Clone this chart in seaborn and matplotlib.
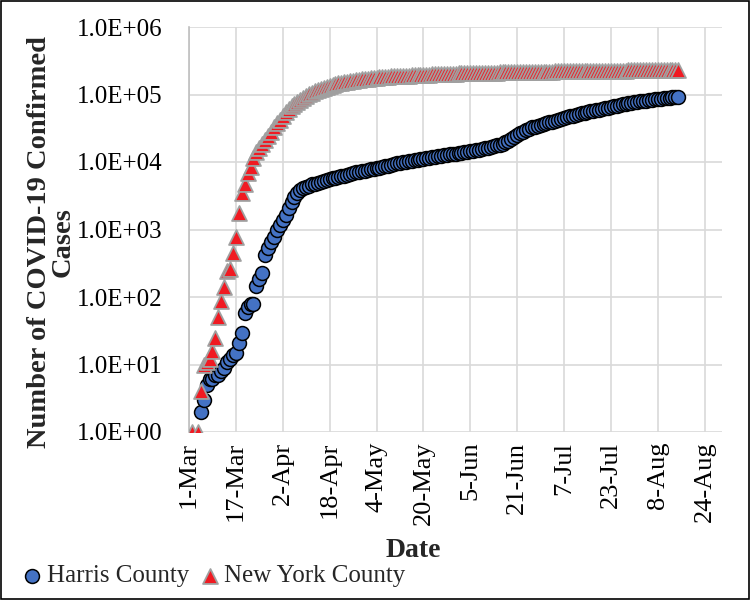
import matplotlib
matplotlib.use("Agg")
import matplotlib.pyplot as plt
import matplotlib.dates as mdates
from matplotlib.ticker import FuncFormatter
from matplotlib.patches import Rectangle
import numpy as np
import pandas as pd
import seaborn as sns

# daily cumulative cases, first entry = 1-Mar-2020 (None = no point that day)
start_date = "2020-03-01"
harris_cases = [
    None, None, None, None, 2, 3, 5, 6, 6, 7,
    7, 8, 9, 11, 12, 14, 15, 21, 29, 58,
    70, 78, 80, 145, 185, 230, 420, 540, 650, 780,
    980, 1170, 1380, 1630, 2100, 2570, 3020, 3470, 3800, 4050,
    4250, 4450, 4650, 4800, 4950, 5100, 5250, 5400, 5550, 5700,
    5850, 6000, 6150, 6300, 6500, 6700, 6850, 7000, 7150, 7300,
    7450, 7600, 7750, 7900, 8050, 8250, 8450, 8650, 8850, 9050,
    9300, 9550, 9800, 10000, 10150, 10300, 10450, 10600, 10750, 10950,
    11150, 11350, 11550, 11750, 11950, 12150, 12350, 12550, 12750, 12950,
    13150, 13350, 13550, 13750, 13950, 14200, 14450, 14700, 15000, 15300,
    15600, 15900, 16300, 16700, 17100, 17600, 18100, 18700, 19600, 20700,
    22000, 23500, 25000, 26500, 28000, 29500, 31000, 32500, 33500, 34500,
    35500, 36500, 37500, 38500, 39800, 41000, 42300, 43600, 45000, 46300,
    47500, 48700, 50000, 51200, 52400, 53600, 54800, 56000, 57300, 58600,
    59900, 61200, 62500, 64000, 65500, 67000, 68400, 69800, 71200, 72600,
    74000, 75400, 76700, 78000, 79200, 80300, 81400, 82400, 83400, 84400,
    85400, 86400, 87400, 88400, 89400, 90400, 91300, 92200,
]
ny_cases = [
    None, 1, None, 1, 4, 10, 11, 12, 16, 25,
    50, 87, 140, 240, 260, 450, 770, 1750, 3500, 4700,
    6900, 8500, 11500, 14000, 16000, 18500, 21000, 24500, 28000, 33000,
    37500, 42000, 48000, 55000, 62000, 68000, 73000, 78000, 84000, 90000,
    96000, 102000, 107000, 112000, 117000, 122000, 126000, 130000, 134000, 138000,
    142000, 146000, 149000, 152000, 155000, 158000, 161000, 164000, 166000, 168000,
    170000, 172000, 174000, 176000, 177500, 179000, 180500, 182000, 183500, 185000,
    186000, 187000, 188000, 189000, 190000, 191000, 192000, 193000, 194000, 195000,
    196000, 196800, 197600, 198400, 199200, 200000, 200700, 201400, 202100, 202800,
    203500, 204100, 204700, 205300, 205900, 206500, 207000, 207500, 208000, 208500,
    209000, 209500, 210000, 210500, 211000, 211400, 211800, 212200, 212600, 213000,
    213400, 213800, 214200, 214600, 215000, 215400, 215800, 216200, 216600, 217000,
    217400, 217800, 218200, 218600, 219000, 219400, 219800, 220200, 220500, 220800,
    221100, 221400, 221700, 222000, 222300, 222600, 222900, 223200, 223500, 223800,
    224100, 224400, 224700, 225000, 225300, 225600, 225900, 226200, 226400, 226600,
    226800, 227000, 227200, 227400, 227600, 227800, 228000, 228200, 228400, 228600,
    228800, 229000, 229200, 229400, 229600, 229800, 230000, 230200,
]
tick_dates = ["2020-03-01", "2020-03-17", "2020-04-02", "2020-04-18", "2020-05-04",
              "2020-05-20", "2020-06-05", "2020-06-21", "2020-07-07", "2020-07-23",
              "2020-08-08", "2020-08-24"]
x_limits = ["2020-03-01", "2020-08-30"]

sns.set_style("white")
plt.rcParams['font.family'] = ['Liberation Serif', 'DejaVu Serif']

def make_df(values, name):
    df = pd.DataFrame({"Date": pd.date_range(start_date, periods=len(values), freq="D"),
                       "Cases": pd.Series(values, dtype=float)})
    df["County"] = name
    return df.dropna()

harris = make_df(harris_cases, "Harris County")
ny = make_df(ny_cases, "New York County")

fig = plt.figure(figsize=(7.5, 6), dpi=100)
ax = fig.add_axes([0.252, 0.28, 0.711, 0.675])

sns.scatterplot(data=harris, x="Date", y="Cases", marker="o", s=100, color="#4472C4",
                edgecolor="black", linewidth=1.1, label="Harris County", ax=ax, zorder=3)
sns.scatterplot(data=ny, x="Date", y="Cases", marker="^", s=115, color="#F01A22",
                edgecolor="#A0A0A0", linewidth=1.3, label="New York County", ax=ax, zorder=4)

ax.set_yscale("log")
ax.set_ylim(1, 1e6)
ax.set_xlim(pd.Timestamp(x_limits[0]), pd.Timestamp(x_limits[1]))
ax.yaxis.set_major_formatter(FuncFormatter(lambda v, p: "%.1E" % v))
ax.yaxis.set_minor_locator(matplotlib.ticker.NullLocator())
ax.set_xticks([pd.Timestamp(d) for d in tick_dates])
ax.xaxis.set_major_formatter(mdates.DateFormatter("%-d-%b"))
plt.setp(ax.get_xticklabels(), rotation=90)
ax.tick_params(axis="both", length=0, colors="black")
ax.tick_params(axis="y", labelsize=18, pad=19)
ax.tick_params(axis="x", labelsize=19, pad=7)

ax.grid(True, color="#D9D9D9", linewidth=1.2)
ax.set_axisbelow(True)
for side in ["top", "right", "bottom"]:
    ax.spines[side].set_visible(False)
ax.spines["left"].set_color("#BFBFBF")
ax.spines["left"].set_linewidth(1.2)

ax.set_xlabel("Date", fontsize=20, fontweight="bold")
ax.xaxis.set_label_coords(0.42, -0.262)
ax.set_ylabel("Number of COVID-19 Confirmed\nCases", fontsize=20.5, fontweight="bold",
              linespacing=0.95)
ax.yaxis.set_label_coords(-0.212, 0.47)

ax.legend(loc="center left", bbox_to_anchor=(0.028, 0.04), bbox_transform=fig.transFigure,
          ncol=2, frameon=False, fontsize=18, handlelength=0.9, handletextpad=0.15,
          columnspacing=0.35, borderaxespad=0, borderpad=0, markerscale=1.0)

fig.add_artist(Rectangle((0.001, 0.001), 0.998, 0.998, transform=fig.transFigure,
                         fill=False, edgecolor="black", linewidth=1.2))

fig.savefig("out.png", dpi=100)
